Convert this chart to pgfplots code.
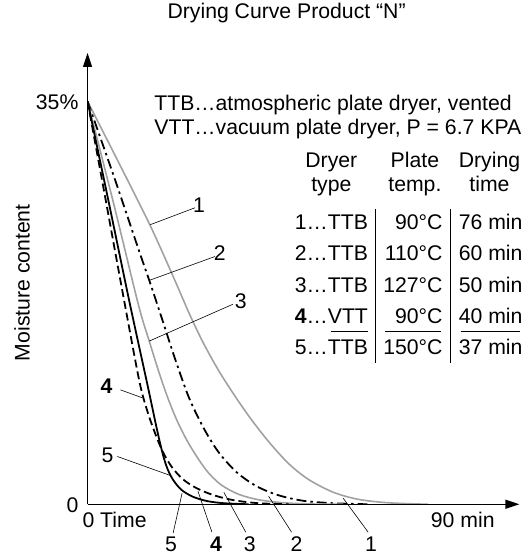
\documentclass[border=0pt]{standalone}
\usepackage{pgfplots}
\pgfplotsset{compat=1.18}
\usetikzlibrary{arrows.meta}
\usepackage{fontspec}
\setmainfont{Liberation Sans}
\newcommand{\chartfont}{\fontsize{21.4}{25}\selectfont}
\definecolor{curvegray}{gray}{0.63}

\begin{document}
\begin{tikzpicture}[font=\chartfont]
\begin{axis}[
  x=4.19bp, y=11.571bp,
  xmin=0, xmax=103.58, ymin=0, ymax=39.2,
  axis lines=left,
  axis line style={line width=1.3bp, -{Triangle[length=14bp,width=9bp]}},
  axis on top,
  major tick length=0pt,
  xtick={0,90},
  xticklabels={{\makebox[0pt][l]{\hspace*{-5bp}0 Time}}, 90 min},
  xticklabel style={anchor=base, yshift=-23bp, inner sep=0pt},
  ytick={0,35}, yticklabels={0,35\%},
  yticklabel style={anchor=east, inner sep=0pt, xshift=-9bp, yshift=-1bp},
  tick label style={font=\chartfont},
  ylabel={Moisture content},
  ylabel style={at={(axis description cs:-0.152,0.491)}, anchor=center, font=\chartfont},
  title={Drying Curve Product “N”},
  title style={at={(axis description cs:0.461,1.075)}, anchor=center, font=\chartfont},
]
% 1: TTB 90 C
\addplot[curvegray, line width=1.6bp, smooth] coordinates {
  (0,35) (7.64,29.56) (15.04,24.20) (20.53,19.79) (24.58,16.42) (27.92,13.91)
  (31.50,11.58) (35.32,9.42) (39.14,7.43) (43.44,5.44) (48.21,3.54) (52.98,2.16)
  (58.95,1.04) (64.92,0.43) (72.08,0.13) (81.62,0)
};
% 2: TTB 110 C
\addplot[black, line width=1.8bp, dash pattern=on 10bp off 4bp on 2.5bp off 4bp, smooth] coordinates {
  (0,35) (6.44,28.35) (12.41,21.95) (14.80,19.45) (17.66,16.33) (21.00,12.62)
  (24.34,9.25) (27.92,6.57) (31.50,4.49) (35.80,2.77) (40.57,1.56) (45.82,0.78)
  (51.79,0.30) (58.95,0.09) (67.30,0)
};
% 3: TTB 127 C
\addplot[curvegray, line width=1.6bp, smooth] coordinates {
  (0,35) (6.21,26.19) (12.17,17.37) (14.80,14.17) (17.18,11.41) (19.33,9.16)
  (21.48,7.26) (23.87,5.53) (26.49,3.98) (29.12,2.68) (32.22,1.64) (36.28,0.86)
  (41.05,0.39) (47.02,0.13) (54.18,0.02) (61.34,0)
};
% 4: VTT 90 C
\addplot[black, line width=1.8bp, dash pattern=on 8bp off 4bp, smooth] coordinates {
  (0,35) (4.30,26.53) (8.59,18.06) (12.41,10.72) (14.32,8.12) (16.23,6.14)
  (18.14,4.49) (20.29,3.20) (22.91,2.16) (26.25,1.38) (30.31,0.78) (35.08,0.35)
  (41.05,0.09) (48.21,0)
};
% 5: TTB 150 C
\addplot[black, line width=1.8bp, smooth] coordinates {
  (0,35) (5.01,26.36) (10.02,17.63) (14.32,10.46) (16.71,6.40) (18.14,4.23)
  (19.33,2.94) (20.76,1.99) (22.67,1.21) (25.30,0.65) (28.64,0.28) (32.70,0.09)
  (38.66,0)
};
\coordinate (O) at (axis cs:-21.0024,43.557);
\end{axis}

\begin{scope}[shift={(O)}, x=1bp, y=-1bp, every node/.style={inner sep=0pt}]
  % key
  \node[anchor=base west] at (155,108) {TTB…atmospheric plate dryer, vented};
  \node[anchor=base west] at (155,132) {VTT…vacuum plate dryer, P = 6.7 KPA};
  \node[anchor=base] at (333,166) {Dryer};
  \node[anchor=base] at (333,190) {type};
  \node[anchor=base] at (417,166) {Plate};
  \node[anchor=base] at (417,190) {temp.};
  \node[anchor=base] at (492,166) {Drying};
  \node[anchor=base] at (492,190) {time};
  \node[anchor=base east] at (370,228) {1…TTB};
  \node[anchor=base east] at (445,228) {90°C};
  \node[anchor=base west] at (461,228) {76 min};
  \node[anchor=base east] at (370,259.5) {2…TTB};
  \node[anchor=base east] at (445,259.5) {110°C};
  \node[anchor=base west] at (461,259.5) {60 min};
  \node[anchor=base east] at (370,291) {3…TTB};
  \node[anchor=base east] at (445,291) {127°C};
  \node[anchor=base west] at (461,291) {50 min};
  \node[anchor=base east] at (370,322) {\textbf{4}…VTT};
  \node[anchor=base east] at (445,322) {90°C};
  \node[anchor=base west] at (461,322) {40 min};
  \node[anchor=base east] at (370,353) {5…TTB};
  \node[anchor=base east] at (445,353) {150°C};
  \node[anchor=base west] at (461,353) {37 min};
  \draw[line width=1.1bp] (377,207) -- (377,362) (453,207) -- (453,362);
  \draw[line width=1.1bp] (333,330) -- (370,330) (387,330) -- (443,330) (463,330) -- (523,330);
  % curve labels
  \node at (200,203) {1};
  \node at (221,252) {2};
  \node at (242,300) {3};
  \node at (107,385) {\textbf{4}};
  \node at (108,455) {5};
  \draw[line width=0.6bp] (196,206) -- (151,223) (216,255) -- (150,279) (234,303) -- (150,340)
    (121,389) -- (143,397) (118,456) -- (171,475);
  \node at (172,544.5) {5};
  \node at (217,544.5) {\textbf{4}};
  \node at (251,544.5) {3};
  \node at (298,544.5) {2};
  \node at (373,544.5) {1};
  \draw[line width=0.6bp] (174,533) -- (183,493) (213,532) -- (199,491) (247,532) -- (225,492)
    (293,532) -- (270,496) (370,532) -- (345,498);
  \path (0,0) rectangle (534,555);
\end{scope}
\end{tikzpicture}
\end{document}
